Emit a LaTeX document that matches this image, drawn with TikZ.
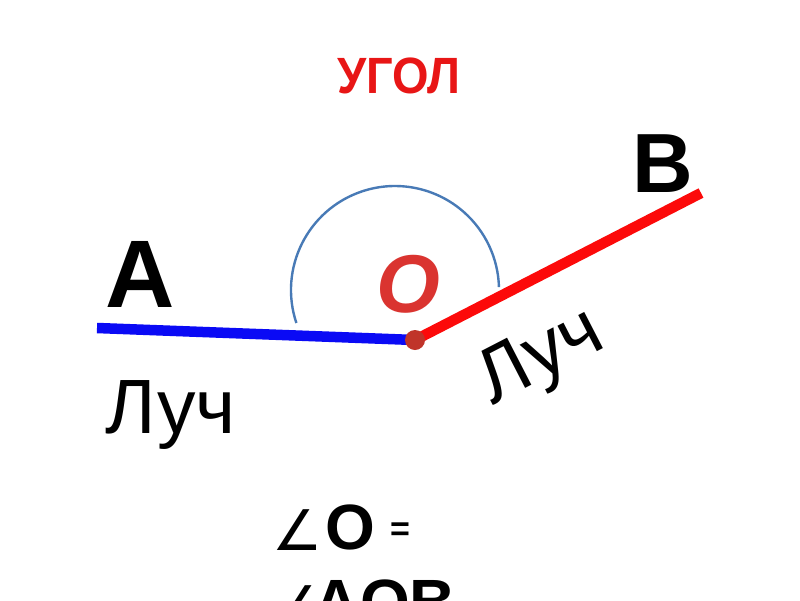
\documentclass[tikz,border=0pt]{standalone}
\usepackage{fontspec}
\setmainfont{Liberation Sans}
\newfontfamily\symfont{DejaVu Sans}
\definecolor{titlered}{RGB}{232,22,22}
\definecolor{rayblue}{RGB}{10,10,245}
\definecolor{rayred}{RGB}{252,10,10}
\definecolor{arcblue}{RGB}{72,122,182}
\definecolor{dotred}{RGB}{192,52,42}
\definecolor{ored}{RGB}{218,52,48}
\begin{document}
\begin{tikzpicture}[x=1pt,y=-1pt,
  ray/.style={line width=10.5pt},
  lbl/.style={inner sep=0pt,outer sep=0pt},
]
\useasboundingbox (0,0) rectangle (800,600);
\fill[white] (0,0) rectangle (800,600);
% title
\node[lbl,anchor=base,text=titlered] (title) at (399,93)
  {\scalebox{0.92}[1]{\fontsize{51}{51}\selectfont\bfseries УГОЛ}};
% arc
\coordinate (C) at (395,290);
\draw[arcblue,line width=2.4pt] (C) ++(161.5:104) arc[start angle=161.5,end angle=358.4,radius=104];
% rays
\coordinate (Aend) at (97,328);
\coordinate (O) at (415,340);
\coordinate (Bend) at (701,193);
\draw[ray,rayblue] (Aend) -- (O);
\draw[ray,rayred] (O) -- (Bend);
\fill[dotred] (O) circle[radius=10];
% labels
\node[lbl,anchor=base] (A) at (140,307) {\fontsize{96}{96}\selectfont\bfseries A};
\node[lbl,anchor=base] (B) at (663,192) {\fontsize{84}{84}\selectfont\bfseries B};
\node[lbl,anchor=base,text=ored] (Olbl) at (408,312) {\fontsize{82}{82}\selectfont\bfseries\itshape O};
\node[lbl,anchor=base] (ray1) at (171,433) {\fontsize{77}{77}\selectfont Луч};
\node[lbl,rotate=27.3] (ray2) at (542,359) {\fontsize{77}{77}\selectfont Луч};
% formula
\node[lbl] (ang1) at (298,530) {\fontsize{56}{56}\symfont ∠};
\node[lbl,anchor=base] (o2) at (350,549) {\fontsize{64}{64}\selectfont\bfseries O};
\node[lbl] (eq) at (400,532) {\fontsize{34}{34}\selectfont\bfseries =};
\node[lbl] (ang2) at (300,606) {\fontsize{56}{56}\symfont ∠};
\node[lbl,anchor=base] (aob) at (385,624) {\fontsize{64}{64}\selectfont\bfseries AOB};
\end{tikzpicture}
\end{document}
